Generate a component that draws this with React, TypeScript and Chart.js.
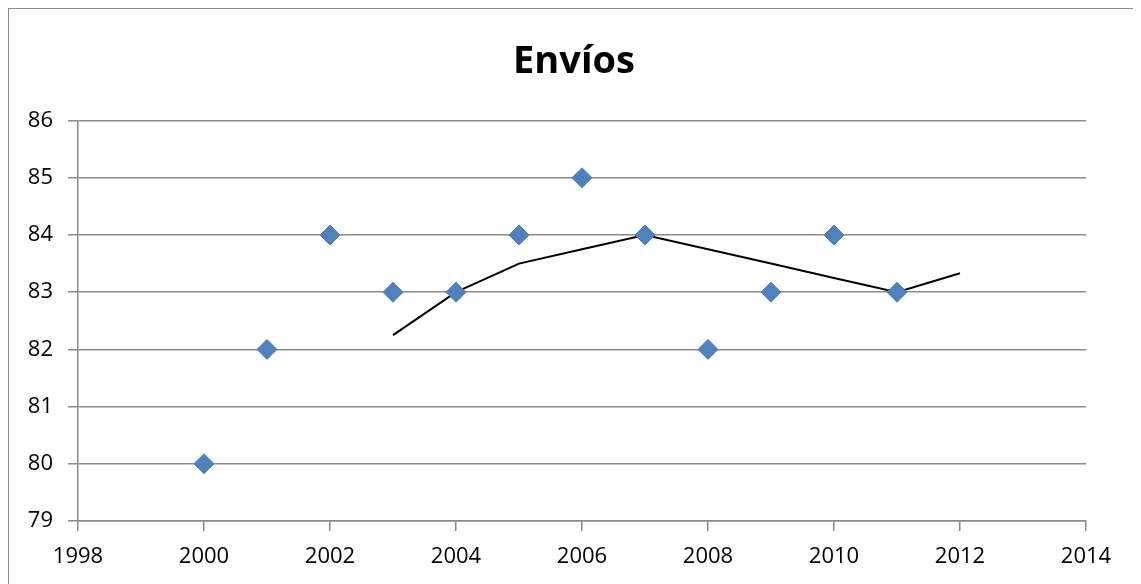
import React, { useEffect, useRef } from "react";
import { Chart, registerables } from "chart.js";

Chart.register(...registerables);

const years = [2000, 2001, 2002, 2003, 2004, 2005, 2006, 2007, 2008, 2009, 2010, 2011];
const envios = [80, 82, 84, 83, 83, 84, 85, 84, 82, 83, 84, 83];
const trendYears = [2003, 2004, 2005, 2006, 2007, 2008, 2009, 2010, 2011, 2012];
const trendValues = [82.25, 83, 83.5, 83.75, 84, 83.75, 83.5, 83.25, 83, 83.33];
const title = "Envíos";
const xMin = 1998;
const xMax = 2014;
const yMin = 79;
const yMax = 86;

export default function App() {
  const canvasRef = useRef<HTMLCanvasElement | null>(null);

  useEffect(() => {
    document.body.style.overflow = "hidden";
    const canvas = canvasRef.current;
    if (!canvas) return;
    const gridColor = "#8a8a8a";
    const font = { family: "'Open Sans', sans-serif", size: 22 };
    const chart = new Chart(canvas, {
      type: "scatter",
      data: {
        datasets: [
          {
            label: title,
            data: years.map((x, i) => ({ x, y: envios[i] })),
            pointStyle: "rectRot",
            pointRadius: 10,
            pointHoverRadius: 10,
            backgroundColor: "#4F81BD",
            borderColor: "#4A7EBB",
            borderWidth: 1,
            showLine: false,
            order: 1,
          },
          {
            label: "Trend",
            data: trendYears.map((x, i) => ({ x, y: trendValues[i] })),
            showLine: true,
            pointRadius: 0,
            borderColor: "#000000",
            borderWidth: 2,
            tension: 0,
            fill: false,
            order: 2,
          },
        ],
      },
      options: {
        animation: false,
        responsive: false,
        maintainAspectRatio: false,
        layout: { padding: { left: 0, right: 0, top: 0, bottom: 0 } },
        plugins: {
          legend: { display: false },
          tooltip: { enabled: false },
          title: {
            display: true,
            text: title,
            color: "#000000",
            font: { family: "'Open Sans', sans-serif", size: 38, weight: "bold" },
            padding: { top: 30, bottom: 36 },
          },
        },
        scales: {
          x: {
            type: "linear",
            min: xMin,
            max: xMax,
            ticks: {
              stepSize: 2,
              color: "#000000",
              font,
              padding: 13,
              maxRotation: 0,
              callback: (v: any) => String(v),
            },
            grid: {
              drawOnChartArea: false,
              drawTicks: true,
              tickLength: 10,
              color: gridColor,
              lineWidth: 1.5,
            },
            border: { display: true, color: gridColor, width: 1.5 },
            afterFit: (s: any) => {
              s.height = 66;
            },
          },
          y: {
            type: "linear",
            min: yMin,
            max: yMax,
            ticks: {
              stepSize: 1,
              color: "#000000",
              font,
              padding: 15,
            },
            grid: {
              drawOnChartArea: true,
              drawTicks: true,
              tickLength: 10,
              color: gridColor,
              lineWidth: 1.5,
            },
            border: { display: true, color: gridColor, width: 1.5 },
            afterFit: (s: any) => {
              s.width = 69;
            },
          },
          yRightSpace: {
            type: "linear",
            position: "right",
            min: yMin,
            max: yMax,
            ticks: { display: false },
            grid: { display: false, drawTicks: false },
            border: { display: false },
            afterFit: (s: any) => {
              s.width = 53;
            },
          },
        },
      },
    });
    return () => chart.destroy();
  }, []);

  return (
    <div
      style={{
        width: 1132,
        height: 580,
        border: "1px solid #8a8a8a",
        boxSizing: "border-box",
        position: "relative",
        background: "#ffffff",
      }}
    >
      <canvas ref={canvasRef} width={1130} height={578} style={{ display: "block" }} />
    </div>
  );
}
